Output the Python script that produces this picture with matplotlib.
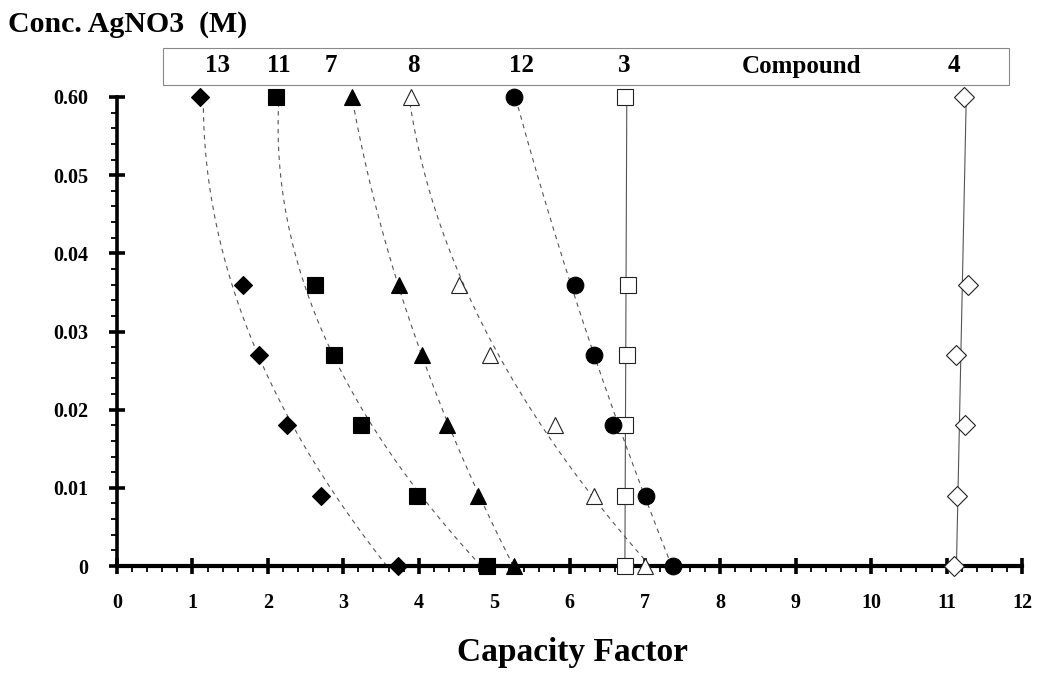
import numpy as np
import matplotlib
matplotlib.use("Agg")
import matplotlib.pyplot as plt
from matplotlib.patches import Rectangle
from matplotlib.transforms import blended_transform_factory

# ---- data ----
conc = [0.06, 0.036, 0.027, 0.018, 0.009, 0.0]
k13 = [1.10, 1.67, 1.885, 2.26, 2.71, 3.72]
k11 = [2.11, 2.62, 2.88, 3.24, 3.98, 4.91]
k7 = [3.11, 3.74, 4.05, 4.38, 4.79, 5.27]
k8 = [3.90, 4.54, 4.94, 5.81, 6.33, 7.00]
k12 = [5.27, 6.07, 6.33, 6.58, 7.01, 7.37]
k3 = [6.74, 6.78, 6.76, 6.73, 6.73, 6.73]
k4 = [11.23, 11.28, 11.12, 11.24, 11.14, 11.10]

compound_labels = ["13", "11", "7", "8", "12", "3", "Compound", "4"]
x_ticks = list(range(0, 13))
y_ticks = [0.0, 0.01, 0.02, 0.03, 0.04, 0.05, 0.06]
y_tick_labels = ["0", "0.01", "0.02", "0.03", "0.04", "0.05", "0.60"]

# ---- layout ----
label_x = [1.33, 2.15, 2.84, 3.93, 5.36, 6.72, 9.07, 11.10]
SERIF = ["Liberation Serif", "DejaVu Serif"]
plt.rcParams["font.family"] = SERIF

fig = plt.figure(figsize=(10.39, 6.74), dpi=100)
ax = fig.add_axes([117 / 1039, 1 - 566 / 674, (1022 - 117) / 1039, (566 - 97) / 674])

ax.set_xlim(0, 12)
ax.set_ylim(0, 0.06)

yy = np.linspace(0, 0.06, 200)
y_arr = np.array(conc)

def trend(xs, deg, **kw):
    c = np.polyfit(y_arr, np.array(xs), deg)
    ax.plot(np.polyval(c, yy), yy, clip_on=False, zorder=2, **kw)

dash_kw = dict(color="#555555", lw=0.8, linestyle=(0, (4, 4)))
for xs in (k13, k11, k7, k8, k12):
    trend(xs, 2, **dash_kw)
for xs in (k3, k4):
    trend(xs, 1, color="#555555", lw=0.8)

mk = dict(linestyle="none", clip_on=False, zorder=5, markeredgewidth=0.8)
ax.plot(k13, conc, marker="D", ms=9.5, color="black", **mk)
ax.plot(k11, conc, marker="s", ms=11.5, color="black", **mk)
ax.plot(k7, conc, marker="^", ms=12, color="black", **mk)
ax.plot(k8, conc, marker="^", ms=12, markerfacecolor="white", markeredgecolor="#222222", **mk)
ax.plot(k3, conc, marker="s", ms=11.5, markerfacecolor="white", markeredgecolor="#222222", **mk)
ax.plot(k12, conc, marker="o", ms=12, color="black", **mk)
ax.plot(k4, conc, marker="D", ms=9.8, markerfacecolor="white", markeredgecolor="#222222", **mk)

# spines
for s in ("top", "right"):
    ax.spines[s].set_visible(False)
ax.spines["left"].set_linewidth(2.6)
ax.spines["bottom"].set_linewidth(3.0)
ax.spines["left"].set_zorder(3)
ax.spines["bottom"].set_zorder(3)

ax.set_xticks(x_ticks)
ax.set_xticklabels([str(v) for v in x_ticks])
ax.set_xticks(np.arange(0, 12.01, 0.2), minor=True)
ax.set_yticks(y_ticks)
ax.set_yticklabels(y_tick_labels)
ax.set_yticks(np.arange(0, 0.0601, 0.002), minor=True)

ax.tick_params(axis="both", which="major", direction="inout", length=11, width=2.6,
               labelsize=14.5, color="black")
ax.tick_params(axis="y", which="major", pad=15)
ax.tick_params(axis="x", which="major", pad=14)
ax.tick_params(axis="both", which="minor", direction="out", length=4, width=1.3)
for lab in ax.get_xticklabels() + ax.get_yticklabels():
    lab.set_fontweight("bold")

# header box with compound labels
fig.patches.append(Rectangle((163 / 1039, 1 - 85 / 674), (1009 - 163) / 1039, 37 / 674,
                             transform=fig.transFigure, fill=False,
                             edgecolor="#888888", lw=0.8))
tr = blended_transform_factory(ax.transData, fig.transFigure)
for lx, lab in zip(label_x, compound_labels):
    ax.text(lx, 1 - 66 / 674, lab, transform=tr, ha="center", va="center",
            fontsize=18, fontweight="bold", clip_on=False)

fig.text(8 / 1039, 1 - 25 / 674, "Conc. AgNO3  (M)", ha="left", va="center",
         fontsize=21.5, fontweight="bold")
fig.text(572 / 1039, 1 - 653 / 674, "Capacity Factor", ha="center", va="center",
         fontsize=24, fontweight="bold")

fig.savefig("out.png", dpi=100)
